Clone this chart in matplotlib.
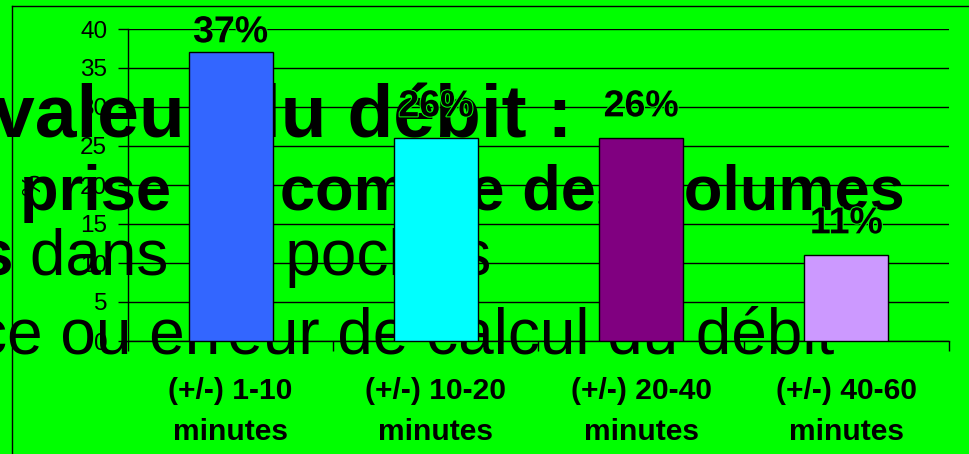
import matplotlib
matplotlib.use("Agg")
import matplotlib.pyplot as plt
import matplotlib.patheffects as pe
from matplotlib.lines import Line2D
import numpy as np

# chart data
categories = ["(+/-) 1-10\nminutes", "(+/-) 10-20\nminutes",
              "(+/-) 20-40\nminutes", "(+/-) 40-60\nminutes"]
values = [37, 26, 26, 11]
bar_colors = ["#3366FF", "#00FFFF", "#800080", "#CC99FF"]
y_ticks = [0, 5, 10, 15, 20, 25, 30, 35, 40]

# slide text bleeding over the chart
line1 = "valeur du débit :"
line2 = "prise en compte des volumes"
line3_bold = "s"
line3 = "dans les poches"
line4 = "ce ou erreur de calcul du débit"

GREEN = "#00FF00"
W, H = 969, 454
plt.rcParams["font.family"] = ["Liberation Sans", "DejaVu Sans"]

fig = plt.figure(figsize=(W / 100, H / 100), dpi=100, facecolor=GREEN)
ax = fig.add_axes([128 / W, 1 - 341 / H, (949 - 128) / W, (341 - 29) / H])
ax.set_facecolor(GREEN)


def fx(px):
    return px / W


def fy(py):
    return 1 - py / H


x = np.arange(len(values))
ax.bar(x, values, width=0.41, color=bar_colors, edgecolor="black",
       linewidth=1, zorder=3)

# value labels (the top one is held inside the chart area)
for xi, v in zip(x, values):
    t = ax.text(xi, min(v + 2.8, 38.3), f"{v}%", ha="center", va="baseline",
                fontsize=27, fontweight="bold", zorder=4)
    t.set_path_effects([pe.withStroke(linewidth=1.5, foreground=GREEN)])

ax.set_xlim(-0.5, len(values) - 0.5)
ax.set_ylim(0, 40)
ax.set_yticks(y_ticks)
ax.tick_params(axis="y", direction="out", length=7, width=1, pad=8,
               labelsize=17.5)
ax.set_xticks(x)
ax.set_xticklabels(categories, fontsize=21.6, fontweight="bold",
                   linespacing=1.6)
ax.tick_params(axis="x", which="major", length=0, pad=26)
ax.set_xticks(np.arange(len(values) + 1) - 0.5, minor=True)
ax.tick_params(axis="x", which="minor", direction="out", length=7, width=1)

ax.grid(axis="y", color="black", linewidth=1)
ax.set_axisbelow(True)
for side in ("top", "right"):
    ax.spines[side].set_visible(False)
ax.spines["left"].set_linewidth(1)
ax.spines["bottom"].set_linewidth(1)

ax.set_ylabel("%", fontsize=18, rotation=90)
ax.yaxis.set_label_coords((45 - 128) / 821, 0.5)

# overlapping slide text, under the bars
tkw = dict(transform=fig.transFigure, va="baseline", clip_on=False, zorder=2)
ax.text(fx(-7), fy(137), line1, fontsize=54, fontweight="bold", **tkw)
ax.text(fx(20), fy(210), line2, fontsize=45.5, fontweight="bold", **tkw)
ax.text(fx(13), fy(275), line3_bold, fontsize=46, fontweight="bold",
        ha="right", **tkw)
ax.text(fx(30), fy(275), line3, fontsize=46, **tkw)
ax.text(fx(-25), fy(353), line4, fontsize=46, **tkw)

# outer chart border (runs off the right and bottom edges)
fig.add_artist(Line2D([fx(12), 1.0], [fy(6), fy(6)], color="black", linewidth=1))
fig.add_artist(Line2D([fx(12), fx(12)], [fy(6), 0.0], color="black", linewidth=1))

fig.savefig("out.png", dpi=100, facecolor=GREEN)
